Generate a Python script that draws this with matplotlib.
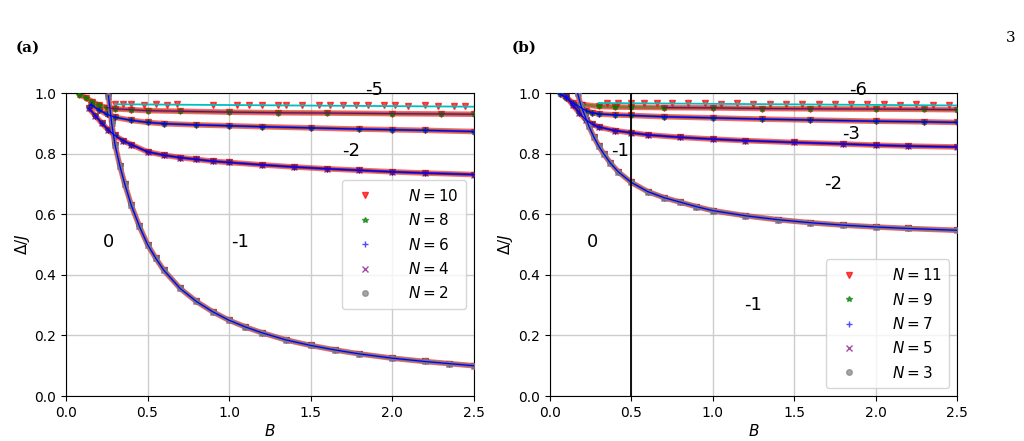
import matplotlib
matplotlib.use("Agg")
import matplotlib.pyplot as plt

# ---------------- panel (a) data ----------------
a_curve0_B = [0.26, 0.28, 0.30, 0.33, 0.36, 0.40, 0.45, 0.50, 0.55, 0.60, 0.70, 0.80,
              0.90, 1.00, 1.10, 1.20, 1.35, 1.50, 1.65, 1.80, 2.00, 2.20, 2.35, 2.50]
a_curve0_D = [0.99, 0.90, 0.83, 0.76, 0.70, 0.63, 0.56, 0.50, 0.455, 0.415, 0.355, 0.312,
              0.278, 0.25, 0.228, 0.209, 0.185, 0.167, 0.152, 0.139, 0.125, 0.114, 0.107, 0.10]

a_curve1_B = [0.14, 0.18, 0.22, 0.26, 0.30, 0.35, 0.40, 0.50, 0.60, 0.70, 0.80, 0.90,
              1.00, 1.20, 1.40, 1.60, 1.80, 2.00, 2.20, 2.50]
a_curve1_D = [0.95, 0.925, 0.90, 0.878, 0.860, 0.843, 0.83, 0.806, 0.795, 0.787, 0.781, 0.775,
              0.771, 0.763, 0.756, 0.750, 0.745, 0.740, 0.736, 0.731]

a_curve2_B = [0.15, 0.20, 0.25, 0.30, 0.40, 0.50, 0.60, 0.80, 1.00, 1.20, 1.50, 1.80,
              2.00, 2.20, 2.50]
a_curve2_D = [0.962, 0.945, 0.93, 0.92, 0.91, 0.903, 0.899, 0.895, 0.892, 0.889, 0.885, 0.881,
              0.879, 0.877, 0.873]

a_curve3_B = [0.08, 0.12, 0.16, 0.20, 0.25, 0.30, 0.40, 0.50, 0.70, 1.00, 1.30, 1.60,
              2.00, 2.30, 2.50]
a_curve3_D = [0.995, 0.985, 0.972, 0.960, 0.952, 0.948, 0.945, 0.942, 0.940, 0.937, 0.935, 0.934,
              0.932, 0.931, 0.930]

a_top_B = [0.30, 2.50]
a_top_D = [0.963, 0.955]
a_topred_B = [0.30, 0.35, 0.40, 0.48, 0.55, 0.62, 0.68, 0.90, 1.05, 1.12, 1.20, 1.30,
              1.35, 1.45, 1.55, 1.62, 1.70, 1.78, 1.85, 1.95, 2.02, 2.10, 2.20, 2.28, 2.38, 2.45]
a_topred_D = [0.964, 0.963, 0.964, 0.962, 0.963, 0.962, 0.963, 0.962, 0.961, 0.962, 0.961, 0.960,
              0.961, 0.960, 0.961, 0.960, 0.959, 0.960, 0.959, 0.960, 0.959, 0.958, 0.959, 0.958,
              0.958, 0.957]

# ---------------- panel (b) data ----------------
b_curve0_B = [0.17, 0.19, 0.215, 0.24, 0.27, 0.30, 0.33, 0.37, 0.42, 0.50, 0.60, 0.70,
              0.80, 0.90, 1.00, 1.20, 1.40, 1.60, 1.80, 2.00, 2.20, 2.50]
b_curve0_D = [1.00, 0.96, 0.925, 0.89, 0.855, 0.825, 0.80, 0.77, 0.74, 0.705, 0.675, 0.655,
              0.64, 0.625, 0.612, 0.595, 0.582, 0.572, 0.564, 0.558, 0.553, 0.547]

b_curve1_B = [0.10, 0.14, 0.18, 0.22, 0.26, 0.30, 0.40, 0.50, 0.60, 0.80, 1.00, 1.20,
              1.50, 1.80, 2.00, 2.20, 2.50]
b_curve1_D = [0.99, 0.96, 0.935, 0.912, 0.897, 0.888, 0.876, 0.869, 0.862, 0.854, 0.848, 0.843,
              0.837, 0.832, 0.828, 0.825, 0.822]

b_curve2_B = [0.06, 0.10, 0.14, 0.18, 0.22, 0.26, 0.30, 0.40, 0.50, 0.70, 1.00, 1.30,
              1.60, 2.00, 2.30, 2.50]
b_curve2_D = [0.998, 0.985, 0.968, 0.955, 0.942, 0.935, 0.931, 0.928, 0.926, 0.922, 0.918, 0.914,
              0.911, 0.907, 0.905, 0.903]

b_curve3_B = [0.20, 0.30, 0.40, 0.50, 0.70, 1.00, 1.30, 1.60, 2.00, 2.30, 2.50]
b_curve3_D = [0.962, 0.956, 0.954, 0.953, 0.952, 0.951, 0.949, 0.948, 0.947, 0.946, 0.945]

b_top_B = [0.30, 2.50]
b_top_D = [0.967, 0.959]
b_topred_B = [0.35, 0.42, 0.50, 0.58, 0.66, 0.75, 0.85, 0.95, 1.05, 1.15, 1.25, 1.35,
              1.45, 1.55, 1.65, 1.75, 1.85, 1.95, 2.05, 2.15, 2.25, 2.35, 2.45]
b_topred_D = [0.968, 0.967, 0.968, 0.967, 0.966, 0.967, 0.966, 0.966, 0.965, 0.966, 0.965, 0.965,
              0.964, 0.965, 0.964, 0.963, 0.964, 0.963, 0.963, 0.962, 0.963, 0.962, 0.962]

a_labels = ["$N=10$", "$N=8$", "$N=6$", "$N=4$", "$N=2$"]
b_labels = ["$N=11$", "$N=9$", "$N=7$", "$N=5$", "$N=3$"]
colors = ["red", "green", "blue", "purple", "grey"]
markers = ["v", "*", "+", "x", "o"]
sizes = [5, 4, 4, 4, 4]
band_lw = [4.0, 2.2, 1.4, 1.8, 3.0]
band_alpha = [0.6, 0.45, 0.35, 0.5, 0.8]

a_curves = [(a_curve0_B, a_curve0_D), (a_curve1_B, a_curve1_D),
            (a_curve2_B, a_curve2_D), (a_curve3_B, a_curve3_D)]
b_curves = [(b_curve0_B, b_curve0_D), (b_curve1_B, b_curve1_D),
            (b_curve2_B, b_curve2_D), (b_curve3_B, b_curve3_D)]
# how many curves (counted from the bottom one) each series reaches
reach = [4, 4, 3, 2, 1]

fig = plt.figure(figsize=(10.24, 4.41), dpi=100)
axa = fig.add_axes([0.0645, 0.102, 0.398, 0.687])
axb = fig.add_axes([0.537, 0.102, 0.3975, 0.687])


def draw(ax, curves, top, topred, labels):
    ax.grid(True, color="#cccccc", lw=1.0, zorder=0)
    for i in range(5):
        for j in range(reach[i]):
            B, D = curves[j]
            ax.plot(B, D, color=colors[i], lw=band_lw[i], alpha=band_alpha[i], zorder=2 + i,
                    solid_capstyle="butt")
            ax.plot(B, D, ls="none", marker=markers[i], color=colors[i], ms=sizes[i],
                    alpha=0.7, zorder=2 + i, label=labels[i] if j == 0 else None)
    ax.plot(topred[0], topred[1], ls="none", marker="v", color="red", ms=5, alpha=0.7, zorder=2)
    ax.plot(top[0], top[1], color="c", lw=1.3, zorder=8)
    for j in range(3):
        ax.plot(curves[j][0], curves[j][1], color="blue", lw=0.9, zorder=9)
    ax.plot(curves[3][0][4:], curves[3][1][4:], color="purple", lw=0.9, zorder=9)
    ax.set_xlim(0, 2.5)
    ax.set_ylim(0, 1.0)
    ax.set_xticks([0.0, 0.5, 1.0, 1.5, 2.0, 2.5])
    ax.set_yticks([0.0, 0.2, 0.4, 0.6, 0.8, 1.0])
    ax.tick_params(labelsize=10)
    ax.set_xlabel("$B$", fontsize=11, labelpad=2)
    ax.set_ylabel(r"$\Delta/J$", fontsize=11, labelpad=2)


draw(axa, a_curves, (a_top_B, a_top_D), (a_topred_B, a_topred_D), a_labels)
draw(axb, b_curves, (b_top_B, b_top_D), (b_topred_B, b_topred_D), b_labels)
axb.axvline(0.5, color="black", lw=1.3, zorder=10)

fs = 13
axa.text(1.89, 1.01, "-5", fontsize=fs, ha="center", va="center", zorder=11)
axa.text(1.75, 0.81, "-2", fontsize=fs, ha="center", va="center", zorder=11)
axa.text(1.07, 0.51, "-1", fontsize=fs, ha="center", va="center", zorder=11)
axa.text(0.26, 0.51, "0", fontsize=fs, ha="center", va="center", zorder=11)

axb.text(1.89, 1.01, "-6", fontsize=fs, ha="center", va="center", zorder=11)
axb.text(1.85, 0.865, "-3", fontsize=fs, ha="center", va="center", zorder=11)
axb.text(1.74, 0.70, "-2", fontsize=fs, ha="center", va="center", zorder=11)
axb.text(0.43, 0.81, "-1", fontsize=fs, ha="center", va="center", zorder=11)
axb.text(0.26, 0.51, "0", fontsize=fs, ha="center", va="center", zorder=11)
axb.text(1.25, 0.30, "-1", fontsize=fs, ha="center", va="center", zorder=11)

axa.legend(loc="center right", fontsize=11, markerscale=1.0, handletextpad=1.8,
           borderpad=0.5, labelspacing=0.55).set_zorder(20)
axb.legend(loc="lower right", fontsize=11, markerscale=1.0, handletextpad=1.8,
           borderpad=0.5, labelspacing=0.55).set_zorder(20)

fig.text(0.015, 0.893, "(a)", fontsize=11, fontweight="bold", family="serif", va="center")
fig.text(0.50, 0.893, "(b)", fontsize=11, fontweight="bold", family="serif", va="center")
fig.text(0.982, 0.914, "3", fontsize=11, family="serif", va="center")

fig.savefig("out.png", dpi=100)
